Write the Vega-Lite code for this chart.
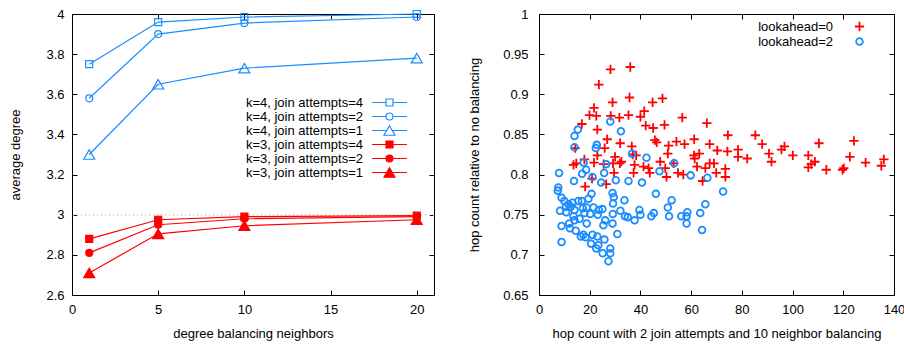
{
  "$schema": "https://vega.github.io/schema/vega-lite/v6.json",
  "padding": {"left": 9, "top": 7, "right": 0, "bottom": 0},
  "spacing": 105,
  "bounds": "flush",
  "resolve": {
    "scale": {"color": "independent", "shape": "independent", "size": "independent", "stroke": "independent", "fill": "independent"},
    "legend": {"color": "independent", "shape": "independent", "size": "independent", "stroke": "independent", "fill": "independent"}
  },
  "config": {
    "font": "Liberation Sans",
    "view": {"stroke": "#000", "strokeWidth": 1},
    "axis": {"domain": false, "grid": false, "tickSize": -5, "tickColor": "#000", "labelFontSize": 13, "titleFontSize": 13, "titleFontWeight": "normal", "labelColor": "#000", "titleColor": "#000", "labelFlush": false, "labelOverlap": false},
    "legend": {"labelFontSize": 13, "labelColor": "#000", "title": null}
  },
  "hconcat": [
    {
      "width": 362,
      "height": 281,
      "data": {"values": [
        {"x": 1, "y": 3.75, "series": "k=4, join attempts=4"},
        {"x": 5, "y": 3.96, "series": "k=4, join attempts=4"},
        {"x": 10, "y": 3.985, "series": "k=4, join attempts=4"},
        {"x": 20, "y": 4.0, "series": "k=4, join attempts=4"},
        {"x": 1, "y": 3.58, "series": "k=4, join attempts=2"},
        {"x": 5, "y": 3.9, "series": "k=4, join attempts=2"},
        {"x": 10, "y": 3.955, "series": "k=4, join attempts=2"},
        {"x": 20, "y": 3.985, "series": "k=4, join attempts=2"},
        {"x": 1, "y": 3.3, "series": "k=4, join attempts=1"},
        {"x": 5, "y": 3.65, "series": "k=4, join attempts=1"},
        {"x": 10, "y": 3.73, "series": "k=4, join attempts=1"},
        {"x": 20, "y": 3.78, "series": "k=4, join attempts=1"},
        {"x": 1, "y": 2.88, "series": "k=3, join attempts=4"},
        {"x": 5, "y": 2.975, "series": "k=3, join attempts=4"},
        {"x": 10, "y": 2.99, "series": "k=3, join attempts=4"},
        {"x": 20, "y": 2.995, "series": "k=3, join attempts=4"},
        {"x": 1, "y": 2.81, "series": "k=3, join attempts=2"},
        {"x": 5, "y": 2.95, "series": "k=3, join attempts=2"},
        {"x": 10, "y": 2.98, "series": "k=3, join attempts=2"},
        {"x": 20, "y": 2.99, "series": "k=3, join attempts=2"},
        {"x": 1, "y": 2.71, "series": "k=3, join attempts=1"},
        {"x": 5, "y": 2.905, "series": "k=3, join attempts=1"},
        {"x": 10, "y": 2.945, "series": "k=3, join attempts=1"},
        {"x": 20, "y": 2.975, "series": "k=3, join attempts=1"}
      ]},
      "resolve": {
        "scale": {"shape": "independent", "fill": "independent", "stroke": "independent"},
        "axis": {"x": "independent", "y": "independent"}
      },
      "layer": [
        {
          "mark": {"type": "rule", "color": "#d0d0d0", "strokeDash": [1, 3], "strokeWidth": 1},
          "encoding": {"y": {"datum": 3, "type": "quantitative", "axis": null}}
        },
        {
          "mark": {"type": "line", "strokeWidth": 1.2},
          "encoding": {
            "x": {"field": "x", "type": "quantitative", "scale": {"domain": [0, 21], "nice": false}, "axis": {"orient": "top", "labels": false, "title": null, "values": [0, 5, 10, 15, 20]}},
            "y": {"field": "y", "type": "quantitative", "scale": {"domain": [2.6, 4], "nice": false, "zero": false}, "axis": {"orient": "right", "labels": false, "title": null, "values": [2.6, 2.8, 3, 3.2, 3.4, 3.6, 3.8, 4]}},
            "color": {"field": "series", "type": "nominal", "legend": null,
              "scale": {"domain": ["k=4, join attempts=4", "k=4, join attempts=2", "k=4, join attempts=1", "k=3, join attempts=4", "k=3, join attempts=2", "k=3, join attempts=1"],
                        "range": ["#1a8cff", "#1a8cff", "#1a8cff", "#ff0000", "#ff0000", "#ff0000"]}},
            "detail": {"field": "series"}
          }
        },
        {
          "mark": {"type": "point", "size": 49, "strokeWidth": 1.2, "opacity": 1},
          "encoding": {
            "x": {"field": "x", "type": "quantitative", "axis": {"orient": "bottom", "title": "degree balancing neighbors", "values": [0, 5, 10, 15, 20], "labelPadding": 13, "titlePadding": 11}},
            "y": {"field": "y", "type": "quantitative", "axis": {"orient": "left", "title": "average degree", "values": [2.6, 2.8, 3, 3.2, 3.4, 3.6, 3.8, 4], "format": "~g", "labelPadding": 13, "titlePadding": 23}},
            "shape": {"field": "series", "type": "nominal", "legend": null,
              "scale": {"domain": ["k=4, join attempts=4", "k=4, join attempts=2", "k=4, join attempts=1", "k=3, join attempts=4", "k=3, join attempts=2", "k=3, join attempts=1"],
                        "range": ["M-1,-1L1,-1L1,1L-1,1Z", "M-1,0A1,1,0,1,1,1,0A1,1,0,1,1,-1,0Z", "M0,-1.36L1.57,1.36L-1.57,1.36Z", "M-1,-1L1,-1L1,1L-1,1Z", "M-1,0A1,1,0,1,1,1,0A1,1,0,1,1,-1,0Z", "M0,-1.36L1.57,1.36L-1.57,1.36Z"]}},
            "stroke": {"field": "series", "type": "nominal", "legend": null,
              "scale": {"domain": ["k=4, join attempts=4", "k=4, join attempts=2", "k=4, join attempts=1", "k=3, join attempts=4", "k=3, join attempts=2", "k=3, join attempts=1"],
                        "range": ["#1a8cff", "#1a8cff", "#1a8cff", "#ff0000", "#ff0000", "#ff0000"]}},
            "fill": {"field": "series", "type": "nominal", "legend": null,
              "scale": {"domain": ["k=4, join attempts=4", "k=4, join attempts=2", "k=4, join attempts=1", "k=3, join attempts=4", "k=3, join attempts=2", "k=3, join attempts=1"],
                        "range": ["transparent", "transparent", "transparent", "#ff0000", "#ff0000", "#ff0000"]}}
          }
        },
        {
          "mark": {"type": "point", "size": 49, "strokeWidth": 1.2, "opacity": 0},
          "encoding": {
            "x": {"field": "x", "type": "quantitative", "axis": null},
            "y": {"field": "y", "type": "quantitative", "axis": null},
            "shape": {"field": "series", "type": "nominal",
              "scale": {"domain": ["k=4, join attempts=4", "k=4, join attempts=2", "k=4, join attempts=1", "k=3, join attempts=4", "k=3, join attempts=2", "k=3, join attempts=1"],
                        "range": ["M-5,0L-1,0M1,0L5,0M-1,-1L1,-1L1,1L-1,1Z", "M-5,0L-1,0M1,0L5,0M-1,0A1,1,0,1,1,1,0A1,1,0,1,1,-1,0Z", "M-5,0L-0.79,0M0.79,0L5,0M0,-1.36L1.57,1.36L-1.57,1.36Z", "M-5,0L5,0M-1,-1L1,-1L1,1L-1,1Z", "M-5,0L5,0M-1,0A1,1,0,1,1,1,0A1,1,0,1,1,-1,0Z", "M-5,0L5,0M0,-1.36L1.57,1.36L-1.57,1.36Z"]},
              "legend": {"orient": "none", "legendX": 311, "legendY": 82, "labelAlign": "right", "labelOffset": -33, "labelFontSize": 13, "rowPadding": -1, "symbolSize": 49, "symbolStrokeWidth": 1.2, "encode": {"symbols": {"update": {"opacity": {"value": 1}}}}}},
            "stroke": {"field": "series", "type": "nominal",
              "scale": {"domain": ["k=4, join attempts=4", "k=4, join attempts=2", "k=4, join attempts=1", "k=3, join attempts=4", "k=3, join attempts=2", "k=3, join attempts=1"],
                        "range": ["#1a8cff", "#1a8cff", "#1a8cff", "#ff0000", "#ff0000", "#ff0000"]},
              "legend": {"orient": "none", "legendX": 311, "legendY": 82, "labelAlign": "right", "labelOffset": -33, "labelFontSize": 13, "rowPadding": -1, "symbolSize": 49, "symbolStrokeWidth": 1.2, "encode": {"symbols": {"update": {"opacity": {"value": 1}}}}}},
            "fill": {"field": "series", "type": "nominal",
              "scale": {"domain": ["k=4, join attempts=4", "k=4, join attempts=2", "k=4, join attempts=1", "k=3, join attempts=4", "k=3, join attempts=2", "k=3, join attempts=1"],
                        "range": ["transparent", "transparent", "transparent", "#ff0000", "#ff0000", "#ff0000"]},
              "legend": {"orient": "none", "legendX": 311, "legendY": 82, "labelAlign": "right", "labelOffset": -33, "labelFontSize": 13, "rowPadding": -1, "symbolSize": 49, "symbolStrokeWidth": 1.2, "encode": {"symbols": {"update": {"opacity": {"value": 1}}}}}}
          }
        }
      ]
    },
    {
      "width": 355,
      "height": 281,
      "data": {"values": [
        {"hop": 28.2, "rel": 0.931, "type": "lookahead=0"},
        {"hop": 36.0, "rel": 0.934, "type": "lookahead=0"},
        {"hop": 23.6, "rel": 0.912, "type": "lookahead=0"},
        {"hop": 29.0, "rel": 0.890, "type": "lookahead=0"},
        {"hop": 35.7, "rel": 0.896, "type": "lookahead=0"},
        {"hop": 44.8, "rel": 0.890, "type": "lookahead=0"},
        {"hop": 48.7, "rel": 0.895, "type": "lookahead=0"},
        {"hop": 21.7, "rel": 0.883, "type": "lookahead=0"},
        {"hop": 19.9, "rel": 0.874, "type": "lookahead=0"},
        {"hop": 22.6, "rel": 0.873, "type": "lookahead=0"},
        {"hop": 28.3, "rel": 0.873, "type": "lookahead=0"},
        {"hop": 31.7, "rel": 0.871, "type": "lookahead=0"},
        {"hop": 35.3, "rel": 0.874, "type": "lookahead=0"},
        {"hop": 40.0, "rel": 0.872, "type": "lookahead=0"},
        {"hop": 41.5, "rel": 0.879, "type": "lookahead=0"},
        {"hop": 56.5, "rel": 0.871, "type": "lookahead=0"},
        {"hop": 66.2, "rel": 0.864, "type": "lookahead=0"},
        {"hop": 16.9, "rel": 0.863, "type": "lookahead=0"},
        {"hop": 42.1, "rel": 0.861, "type": "lookahead=0"},
        {"hop": 45.0, "rel": 0.858, "type": "lookahead=0"},
        {"hop": 49.5, "rel": 0.862, "type": "lookahead=0"},
        {"hop": 23.0, "rel": 0.856, "type": "lookahead=0"},
        {"hop": 26.9, "rel": 0.844, "type": "lookahead=0"},
        {"hop": 45.7, "rel": 0.843, "type": "lookahead=0"},
        {"hop": 46.4, "rel": 0.840, "type": "lookahead=0"},
        {"hop": 51.1, "rel": 0.836, "type": "lookahead=0"},
        {"hop": 54.2, "rel": 0.841, "type": "lookahead=0"},
        {"hop": 57.4, "rel": 0.838, "type": "lookahead=0"},
        {"hop": 61.2, "rel": 0.844, "type": "lookahead=0"},
        {"hop": 67.3, "rel": 0.838, "type": "lookahead=0"},
        {"hop": 74.5, "rel": 0.849, "type": "lookahead=0"},
        {"hop": 85.3, "rel": 0.849, "type": "lookahead=0"},
        {"hop": 88.0, "rel": 0.838, "type": "lookahead=0"},
        {"hop": 110.4, "rel": 0.839, "type": "lookahead=0"},
        {"hop": 124.2, "rel": 0.842, "type": "lookahead=0"},
        {"hop": 14.3, "rel": 0.833, "type": "lookahead=0"},
        {"hop": 25.9, "rel": 0.833, "type": "lookahead=0"},
        {"hop": 32.0, "rel": 0.839, "type": "lookahead=0"},
        {"hop": 36.6, "rel": 0.835, "type": "lookahead=0"},
        {"hop": 37.0, "rel": 0.825, "type": "lookahead=0"},
        {"hop": 14.7, "rel": 0.814, "type": "lookahead=0"},
        {"hop": 13.6, "rel": 0.812, "type": "lookahead=0"},
        {"hop": 17.9, "rel": 0.819, "type": "lookahead=0"},
        {"hop": 21.7, "rel": 0.815, "type": "lookahead=0"},
        {"hop": 23.0, "rel": 0.824, "type": "lookahead=0"},
        {"hop": 30.0, "rel": 0.822, "type": "lookahead=0"},
        {"hop": 29.2, "rel": 0.814, "type": "lookahead=0"},
        {"hop": 31.9, "rel": 0.814, "type": "lookahead=0"},
        {"hop": 32.5, "rel": 0.816, "type": "lookahead=0"},
        {"hop": 29.6, "rel": 0.802, "type": "lookahead=0"},
        {"hop": 37.7, "rel": 0.812, "type": "lookahead=0"},
        {"hop": 37.3, "rel": 0.802, "type": "lookahead=0"},
        {"hop": 38.3, "rel": 0.824, "type": "lookahead=0"},
        {"hop": 41.2, "rel": 0.810, "type": "lookahead=0"},
        {"hop": 43.2, "rel": 0.808, "type": "lookahead=0"},
        {"hop": 43.7, "rel": 0.802, "type": "lookahead=0"},
        {"hop": 47.8, "rel": 0.816, "type": "lookahead=0"},
        {"hop": 50.8, "rel": 0.826, "type": "lookahead=0"},
        {"hop": 49.8, "rel": 0.808, "type": "lookahead=0"},
        {"hop": 50.3, "rel": 0.797, "type": "lookahead=0"},
        {"hop": 53.1, "rel": 0.814, "type": "lookahead=0"},
        {"hop": 54.8, "rel": 0.802, "type": "lookahead=0"},
        {"hop": 56.9, "rel": 0.800, "type": "lookahead=0"},
        {"hop": 61.1, "rel": 0.824, "type": "lookahead=0"},
        {"hop": 61.4, "rel": 0.820, "type": "lookahead=0"},
        {"hop": 63.2, "rel": 0.826, "type": "lookahead=0"},
        {"hop": 62.3, "rel": 0.810, "type": "lookahead=0"},
        {"hop": 65.6, "rel": 0.808, "type": "lookahead=0"},
        {"hop": 67.3, "rel": 0.814, "type": "lookahead=0"},
        {"hop": 69.0, "rel": 0.814, "type": "lookahead=0"},
        {"hop": 64.5, "rel": 0.792, "type": "lookahead=0"},
        {"hop": 69.9, "rel": 0.802, "type": "lookahead=0"},
        {"hop": 70.3, "rel": 0.830, "type": "lookahead=0"},
        {"hop": 73.5, "rel": 0.807, "type": "lookahead=0"},
        {"hop": 73.5, "rel": 0.797, "type": "lookahead=0"},
        {"hop": 74.3, "rel": 0.829, "type": "lookahead=0"},
        {"hop": 78.5, "rel": 0.831, "type": "lookahead=0"},
        {"hop": 78.5, "rel": 0.822, "type": "lookahead=0"},
        {"hop": 82.1, "rel": 0.820, "type": "lookahead=0"},
        {"hop": 90.7, "rel": 0.826, "type": "lookahead=0"},
        {"hop": 91.7, "rel": 0.816, "type": "lookahead=0"},
        {"hop": 95.6, "rel": 0.831, "type": "lookahead=0"},
        {"hop": 96.8, "rel": 0.835, "type": "lookahead=0"},
        {"hop": 100.1, "rel": 0.824, "type": "lookahead=0"},
        {"hop": 106.2, "rel": 0.824, "type": "lookahead=0"},
        {"hop": 106.2, "rel": 0.809, "type": "lookahead=0"},
        {"hop": 107.4, "rel": 0.813, "type": "lookahead=0"},
        {"hop": 108.8, "rel": 0.816, "type": "lookahead=0"},
        {"hop": 113.3, "rel": 0.806, "type": "lookahead=0"},
        {"hop": 119.7, "rel": 0.806, "type": "lookahead=0"},
        {"hop": 120.2, "rel": 0.808, "type": "lookahead=0"},
        {"hop": 122.6, "rel": 0.822, "type": "lookahead=0"},
        {"hop": 128.8, "rel": 0.815, "type": "lookahead=0"},
        {"hop": 135.0, "rel": 0.811, "type": "lookahead=0"},
        {"hop": 136.0, "rel": 0.819, "type": "lookahead=0"},
        {"hop": 18.2, "rel": 0.785, "type": "lookahead=0"},
        {"hop": 20.9, "rel": 0.795, "type": "lookahead=0"},
        {"hop": 26.5, "rel": 0.788, "type": "lookahead=0"},
        {"hop": 25.5, "rel": 0.813, "type": "lookahead=0"},
        {"hop": 28.1, "rel": 0.866, "type": "lookahead=2"},
        {"hop": 32.3, "rel": 0.854, "type": "lookahead=2"},
        {"hop": 15.3, "rel": 0.856, "type": "lookahead=2"},
        {"hop": 14.0, "rel": 0.848, "type": "lookahead=2"},
        {"hop": 14.0, "rel": 0.834, "type": "lookahead=2"},
        {"hop": 22.8, "rel": 0.837, "type": "lookahead=2"},
        {"hop": 22.4, "rel": 0.833, "type": "lookahead=2"},
        {"hop": 36.7, "rel": 0.826, "type": "lookahead=2"},
        {"hop": 42.4, "rel": 0.821, "type": "lookahead=2"},
        {"hop": 26.5, "rel": 0.813, "type": "lookahead=2"},
        {"hop": 25.7, "rel": 0.802, "type": "lookahead=2"},
        {"hop": 17.6, "rel": 0.815, "type": "lookahead=2"},
        {"hop": 18.6, "rel": 0.806, "type": "lookahead=2"},
        {"hop": 17.0, "rel": 0.801, "type": "lookahead=2"},
        {"hop": 21.1, "rel": 0.797, "type": "lookahead=2"},
        {"hop": 13.8, "rel": 0.792, "type": "lookahead=2"},
        {"hop": 7.9, "rel": 0.802, "type": "lookahead=2"},
        {"hop": 24.5, "rel": 0.790, "type": "lookahead=2"},
        {"hop": 30.3, "rel": 0.793, "type": "lookahead=2"},
        {"hop": 35.3, "rel": 0.792, "type": "lookahead=2"},
        {"hop": 40.6, "rel": 0.790, "type": "lookahead=2"},
        {"hop": 47.5, "rel": 0.804, "type": "lookahead=2"},
        {"hop": 53.3, "rel": 0.814, "type": "lookahead=2"},
        {"hop": 59.8, "rel": 0.799, "type": "lookahead=2"},
        {"hop": 66.4, "rel": 0.796, "type": "lookahead=2"},
        {"hop": 72.6, "rel": 0.779, "type": "lookahead=2"},
        {"hop": 7.6, "rel": 0.784, "type": "lookahead=2"},
        {"hop": 7.4, "rel": 0.780, "type": "lookahead=2"},
        {"hop": 8.9, "rel": 0.771, "type": "lookahead=2"},
        {"hop": 10.0, "rel": 0.767, "type": "lookahead=2"},
        {"hop": 20.7, "rel": 0.776, "type": "lookahead=2"},
        {"hop": 29.0, "rel": 0.777, "type": "lookahead=2"},
        {"hop": 29.5, "rel": 0.772, "type": "lookahead=2"},
        {"hop": 29.2, "rel": 0.764, "type": "lookahead=2"},
        {"hop": 33.7, "rel": 0.768, "type": "lookahead=2"},
        {"hop": 46.1, "rel": 0.776, "type": "lookahead=2"},
        {"hop": 52.3, "rel": 0.768, "type": "lookahead=2"},
        {"hop": 11.6, "rel": 0.763, "type": "lookahead=2"},
        {"hop": 13.2, "rel": 0.765, "type": "lookahead=2"},
        {"hop": 15.5, "rel": 0.767, "type": "lookahead=2"},
        {"hop": 16.9, "rel": 0.767, "type": "lookahead=2"},
        {"hop": 10.6, "rel": 0.760, "type": "lookahead=2"},
        {"hop": 14.0, "rel": 0.756, "type": "lookahead=2"},
        {"hop": 8.3, "rel": 0.755, "type": "lookahead=2"},
        {"hop": 10.7, "rel": 0.753, "type": "lookahead=2"},
        {"hop": 17.3, "rel": 0.758, "type": "lookahead=2"},
        {"hop": 18.8, "rel": 0.759, "type": "lookahead=2"},
        {"hop": 21.5, "rel": 0.759, "type": "lookahead=2"},
        {"hop": 23.6, "rel": 0.756, "type": "lookahead=2"},
        {"hop": 25.0, "rel": 0.757, "type": "lookahead=2"},
        {"hop": 17.9, "rel": 0.752, "type": "lookahead=2"},
        {"hop": 20.2, "rel": 0.751, "type": "lookahead=2"},
        {"hop": 23.2, "rel": 0.750, "type": "lookahead=2"},
        {"hop": 29.1, "rel": 0.751, "type": "lookahead=2"},
        {"hop": 32.1, "rel": 0.755, "type": "lookahead=2"},
        {"hop": 33.9, "rel": 0.748, "type": "lookahead=2"},
        {"hop": 35.0, "rel": 0.747, "type": "lookahead=2"},
        {"hop": 39.6, "rel": 0.756, "type": "lookahead=2"},
        {"hop": 40.0, "rel": 0.750, "type": "lookahead=2"},
        {"hop": 44.3, "rel": 0.748, "type": "lookahead=2"},
        {"hop": 45.3, "rel": 0.752, "type": "lookahead=2"},
        {"hop": 50.8, "rel": 0.759, "type": "lookahead=2"},
        {"hop": 51.3, "rel": 0.748, "type": "lookahead=2"},
        {"hop": 58.5, "rel": 0.753, "type": "lookahead=2"},
        {"hop": 56.1, "rel": 0.748, "type": "lookahead=2"},
        {"hop": 58.2, "rel": 0.748, "type": "lookahead=2"},
        {"hop": 58.2, "rel": 0.739, "type": "lookahead=2"},
        {"hop": 63.6, "rel": 0.752, "type": "lookahead=2"},
        {"hop": 65.6, "rel": 0.763, "type": "lookahead=2"},
        {"hop": 64.3, "rel": 0.731, "type": "lookahead=2"},
        {"hop": 37.7, "rel": 0.743, "type": "lookahead=2"},
        {"hop": 8.9, "rel": 0.736, "type": "lookahead=2"},
        {"hop": 11.9, "rel": 0.739, "type": "lookahead=2"},
        {"hop": 12.2, "rel": 0.733, "type": "lookahead=2"},
        {"hop": 14.0, "rel": 0.743, "type": "lookahead=2"},
        {"hop": 14.5, "rel": 0.730, "type": "lookahead=2"},
        {"hop": 16.5, "rel": 0.723, "type": "lookahead=2"},
        {"hop": 17.5, "rel": 0.725, "type": "lookahead=2"},
        {"hop": 18.8, "rel": 0.739, "type": "lookahead=2"},
        {"hop": 18.4, "rel": 0.722, "type": "lookahead=2"},
        {"hop": 21.1, "rel": 0.725, "type": "lookahead=2"},
        {"hop": 23.0, "rel": 0.723, "type": "lookahead=2"},
        {"hop": 20.5, "rel": 0.714, "type": "lookahead=2"},
        {"hop": 22.6, "rel": 0.708, "type": "lookahead=2"},
        {"hop": 23.4, "rel": 0.712, "type": "lookahead=2"},
        {"hop": 25.8, "rel": 0.719, "type": "lookahead=2"},
        {"hop": 25.4, "rel": 0.737, "type": "lookahead=2"},
        {"hop": 26.1, "rel": 0.743, "type": "lookahead=2"},
        {"hop": 29.0, "rel": 0.739, "type": "lookahead=2"},
        {"hop": 30.9, "rel": 0.726, "type": "lookahead=2"},
        {"hop": 25.1, "rel": 0.702, "type": "lookahead=2"},
        {"hop": 28.1, "rel": 0.708, "type": "lookahead=2"},
        {"hop": 28.1, "rel": 0.702, "type": "lookahead=2"},
        {"hop": 27.4, "rel": 0.692, "type": "lookahead=2"},
        {"hop": 8.9, "rel": 0.716, "type": "lookahead=2"},
        {"hop": 13.6, "rel": 0.748, "type": "lookahead=2"},
        {"hop": 12.5, "rel": 0.760, "type": "lookahead=2"},
        {"hop": 16.0, "rel": 0.745, "type": "lookahead=2"},
        {"hop": 19.5, "rel": 0.770, "type": "lookahead=2"}
      ]},
      "resolve": {"axis": {"x": "independent", "y": "independent"}},
      "layer": [
        {
          "transform": [{"filter": "datum.type == 'lookahead=0'"}],
          "mark": {"type": "point", "filled": false, "strokeWidth": 1.8, "opacity": 1},
          "encoding": {
            "x": {"field": "hop", "type": "quantitative", "scale": {"domain": [0, 140], "nice": false}, "axis": {"orient": "bottom", "title": "hop count with 2 join attempts and 10 neighbor balancing", "values": [0, 20, 40, 60, 80, 100, 120, 140], "labelPadding": 13, "titlePadding": 11}},
            "y": {"field": "rel", "type": "quantitative", "scale": {"domain": [0.65, 1], "nice": false, "zero": false}, "axis": {"orient": "left", "title": "hop count relative to no balancing", "values": [0.65, 0.7, 0.75, 0.8, 0.85, 0.9, 0.95, 1], "format": "~g", "labelPadding": 16, "titlePadding": 21}},
            "color": {"field": "type", "type": "nominal", "scale": {"domain": ["lookahead=0", "lookahead=2"], "range": ["#ff0000", "#1a8cff"]},
              "legend": {"orient": "none", "legendX": 314, "legendY": 6, "labelAlign": "right", "labelOffset": -33, "labelFontSize": 13, "rowPadding": -5, "symbolStrokeWidth": 1.8}},
            "shape": {"field": "type", "type": "nominal", "scale": {"domain": ["lookahead=0", "lookahead=2"], "range": ["M-1,0L1,0M0,-1L0,1", "circle"]},
              "legend": {"orient": "none", "legendX": 314, "legendY": 6, "labelAlign": "right", "labelOffset": -33, "labelFontSize": 13, "rowPadding": -5, "symbolStrokeWidth": 1.8}},
            "size": {"field": "type", "type": "nominal", "scale": {"domain": ["lookahead=0", "lookahead=2"], "range": [86, 45]},
              "legend": {"orient": "none", "legendX": 314, "legendY": 6, "labelAlign": "right", "labelOffset": -33, "labelFontSize": 13, "rowPadding": -5, "symbolStrokeWidth": 1.8}}
          }
        },
        {
          "transform": [{"filter": "datum.type == 'lookahead=2'"}],
          "mark": {"type": "point", "filled": false, "strokeWidth": 1.8, "opacity": 1},
          "encoding": {
            "x": {"field": "hop", "type": "quantitative", "axis": {"orient": "top", "labels": false, "title": null, "values": [0, 20, 40, 60, 80, 100, 120, 140]}},
            "y": {"field": "rel", "type": "quantitative", "axis": {"orient": "right", "labels": false, "title": null, "values": [0.65, 0.7, 0.75, 0.8, 0.85, 0.9, 0.95, 1]}},
            "color": {"field": "type", "type": "nominal"},
            "shape": {"field": "type", "type": "nominal"},
            "size": {"field": "type", "type": "nominal"}
          }
        }
      ]
    }
  ]
}
